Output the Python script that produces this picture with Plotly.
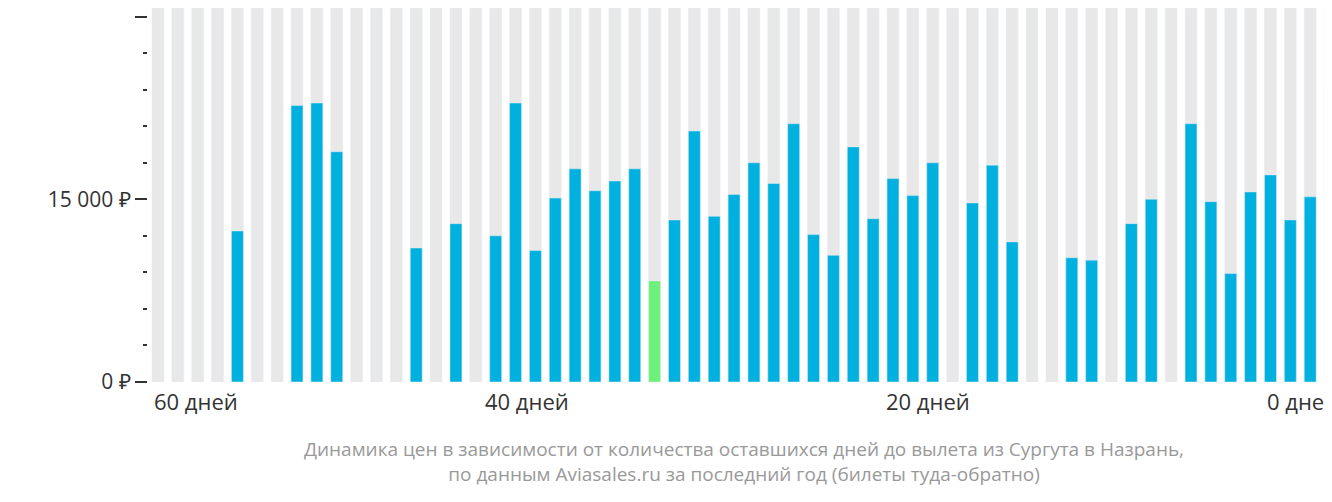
import plotly.graph_objects as go

# price per slot, 60 days before departure -> 0 days (None = no data)
prices = [None, None, None, None, 12400, None, None, 22700, 22900, 18900,
          None, None, None, 11000, None, 13000, None, 12000, 22900, 10800,
          15100, 17500, 15700, 16500, 17500, 8300, 13300, 20600, 13600, 15400,
          18000, 16300, 21200, 12100, 10400, 19300, 13400, 16700, 15300, 18000,
          None, 14700, 17800, 11500, None, None, 10200, 10000, None, 13000,
          15000, None, 21200, 14800, 8900, 15600, 17000, 13300, 15200, 24500]
cheapest_idx = 25
x_labels = ["60 дней", "40 дней", "20 дней", "0 дней"]
y_ticks = [0, 15000, 30000]
y_ticktext = ["0 ₽", "15 000 ₽", "30 000 ₽"]

ymax = 30700
xs = list(range(len(prices)))
colors = ["#6ef07a" if i == cheapest_idx else "#00b0de" for i in xs]

fig = go.Figure()
fig.add_trace(go.Bar(x=xs, y=[ymax] * len(xs), marker_color="#e8e8e8",
                     width=0.6, hoverinfo="skip"))
fig.add_trace(go.Bar(x=xs, y=prices, marker_color=colors, width=0.6))

fig.update_layout(
    width=1332, height=502, barmode="overlay", showlegend=False,
    plot_bgcolor="white", paper_bgcolor="white",
    margin=dict(l=140, r=0, t=0, b=128, autoexpand=False),
    font=dict(family="Open Sans", color="#333"),
    xaxis=dict(range=[-0.5, 59.5], showticklabels=False, showgrid=False,
               zeroline=False, automargin=False),
    yaxis=dict(range=[0, ymax], tickvals=y_ticks, ticktext=y_ticktext,
               ticks="outside", ticklen=12, tickcolor="#333", tickwidth=2,
               tickfont=dict(size=21), showgrid=False, zeroline=False,
               automargin=False,
               minor=dict(dtick=3000, ticks="outside", ticklen=4,
                          tickcolor="#333", tickwidth=2)),
)

label_pos = [(-0.3, "left"), (18.6, "center"), (38.75, "center"), (59.5, "right")]
for (xp, anc), txt in zip(label_pos, x_labels):
    fig.add_annotation(x=xp, y=-0.005, xref="x", yref="paper", text=txt,
                       showarrow=False, xanchor=anc, yanchor="top",
                       font=dict(size=22, color="#333"))

fig.add_annotation(x=0.5, y=-0.14, xref="paper", yref="paper",
                   text="Динамика цен в зависимости от количества оставшихся дней до вылета из Сургута в Назрань,<br>по данным Aviasales.ru за последний год (билеты туда-обратно)",
                   showarrow=False, xanchor="center", yanchor="top", align="center",
                   font=dict(size=19, color="#999"))

fig.write_html("out.html")
